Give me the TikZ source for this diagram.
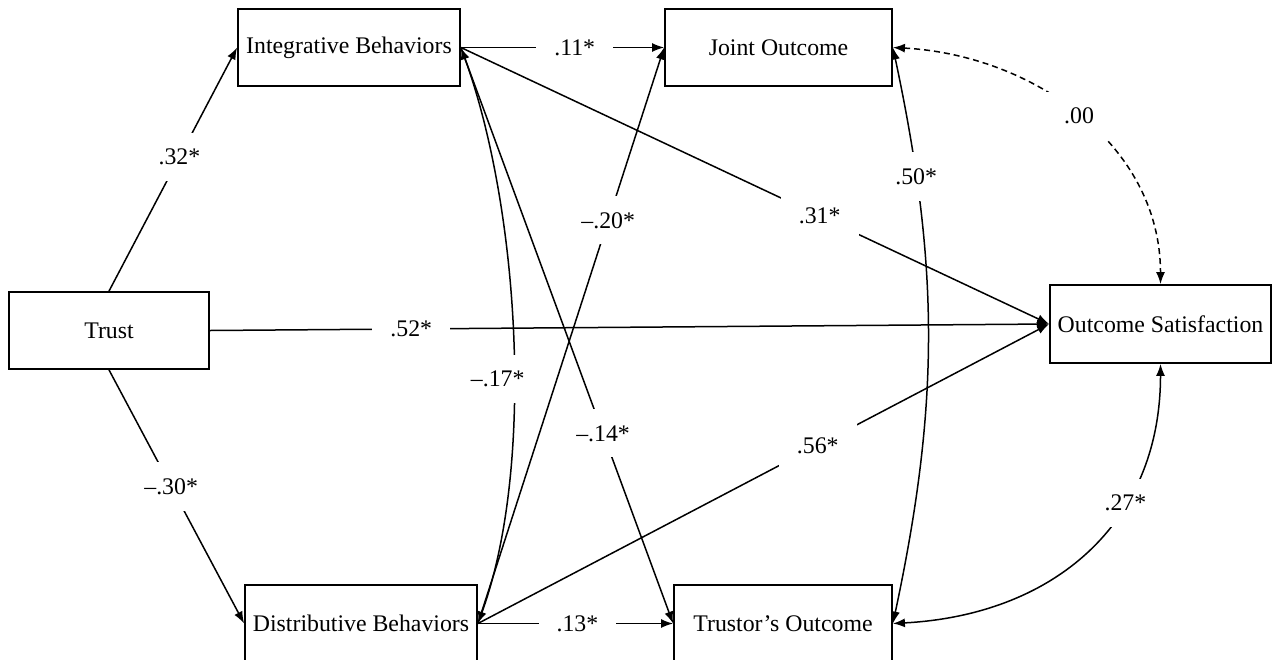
\documentclass[tikz,border=0pt]{standalone}
\usepackage{fontspec}
\setmainfont{Liberation Serif}
\usetikzlibrary{arrows.meta}
\tikzset{
  >={Latex[length=6pt,width=4.5pt]},
  var/.style={draw,line width=0.9pt,minimum height=38.5pt,inner sep=0pt,font=\fontsize{11.9}{14}\selectfont},
  effect/.style={->,line width=0.75pt},
  corr/.style={<->,line width=0.75pt},
  coef/.style={fill=white,inner xsep=9pt,inner ysep=8pt,font=\fontsize{11.9}{14}\selectfont}
}
\begin{document}
\begin{tikzpicture}[x=0.5pt,y=-0.5pt]
  \useasboundingbox (0,0) rectangle (1273,659);
  % variables
  \node[var,minimum width=100pt] (trust) at (109,330.5) {Trust};
  \node[var,minimum width=111pt] (integ) at (349,47.5) {Integrative Behaviors};
  \node[var,minimum width=116pt] (distrib) at (361,623.5) {Distributive Behaviors};
  \node[var,minimum width=113.5pt] (joint) at (778.5,47.5) {Joint Outcome};
  \node[var,minimum width=109pt] (trustor) at (783,623.5) {Trustor's Outcome};
  \node[var,minimum width=110.5pt,minimum height=39pt] (satis) at (1160.5,324) {Outcome Satisfaction};
  % paths from trust
  \draw[effect] (trust.north) -- node[coef,pos=.55] {.32*} (integ.west);
  \draw[effect] (trust.south) -- node[coef,pos=.46] {--.30*} (distrib.west);
  \draw[effect] (trust.east) -- node[coef,pos=.24] {.52*} (satis.west);
  % paths from the behaviors
  \draw[effect] (integ.east) -- node[coef,pos=.56] {.11*} (joint.west);
  \draw[effect] (integ.east) -- node[coef,pos=.61] {.31*} (satis.west);
  \draw[effect] (integ.east) -- node[coef,pos=.67] {--.14*} (trustor.west);
  \draw[effect] (distrib.east) -- node[coef,pos=.51] {.13*} (trustor.west);
  \draw[effect] (distrib.east) -- node[coef,pos=.70] {--.20*} (joint.west);
  \draw[effect] (distrib.east) -- node[coef,pos=.595] {.56*} (satis.west);
  % correlations
  \draw[corr] (integ.east) to[out=-70,in=70,looseness=.75] node[coef,pos=.57,xshift=-8pt] {--.17*} (distrib.east);
  \draw[corr] (joint.east) to[out=-78,in=78,looseness=1] node[coef,pos=.21] {.50*} (trustor.east);
  \draw[corr,dash pattern=on 3pt off 2pt] (joint.east) to[out=-3,in=90] node[coef,pos=.5] {.00} (satis.north);
  \draw[corr] (trustor.east) to[out=3,in=-90,looseness=1.1] node[coef,pos=.66] {.27*} (satis.south);
\end{tikzpicture}
\end{document}
